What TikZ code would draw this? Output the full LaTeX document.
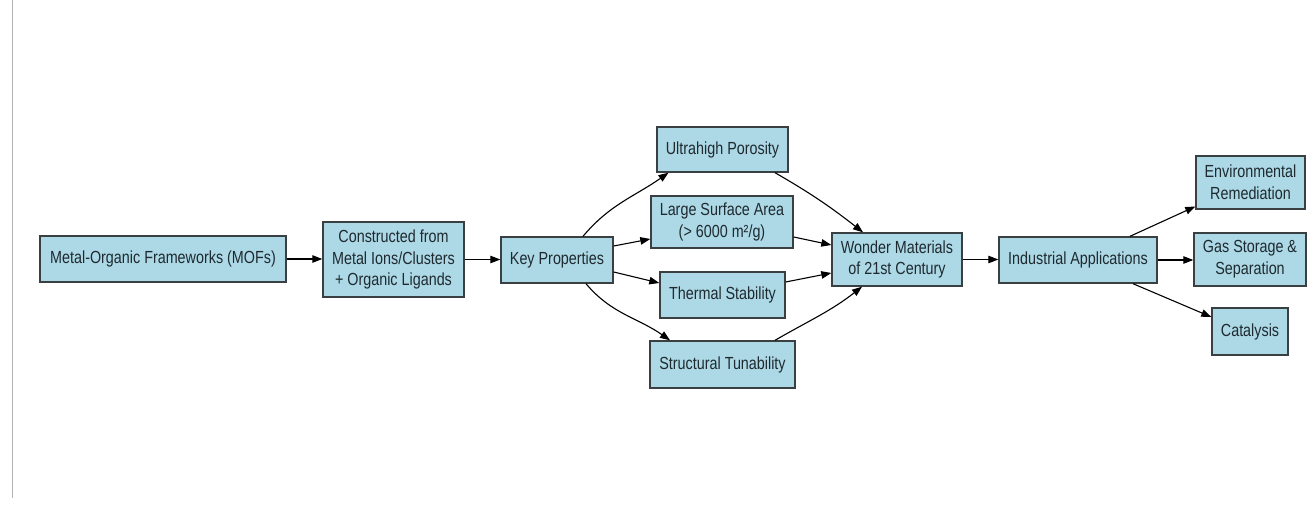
\documentclass[tikz,border=0pt]{standalone}
\usepackage{fontspec}
\setmainfont[FakeStretch=0.82]{Liberation Sans}
\usetikzlibrary{arrows.meta}
\definecolor{boxfill}{HTML}{ADD8E6}
\definecolor{boxline}{HTML}{3A3F42}
\definecolor{txt}{HTML}{1E2A30}
\begin{document}
\begin{tikzpicture}[x=1pt,y=1pt,
  box/.style={draw=boxline, line width=1.4pt, fill=boxfill, text=txt, inner sep=0pt,
    align=center, font=\fontsize{17.5}{21.7}\selectfont},
  arr/.style={draw=black, line width=1.1pt, -{Triangle[length=10pt,width=7.5pt]}}]
\useasboundingbox (0,0) rectangle (1308,504);
\fill[white] (0,0) rectangle (1308,504);
\draw[line width=1pt, black!30] (12,504) -- (12,6);

\node[box, minimum width=246, minimum height=46] (mof) at (163,245) {Metal-Organic Frameworks (MOFs)};
\node[box, minimum width=141, minimum height=75] (con) at (393.5,244.5) {Constructed from\\Metal Ions/Clusters\\+ Organic Ligands};
\node[box, minimum width=112, minimum height=46] (key) at (557,244) {Key Properties};
\node[box, minimum width=131, minimum height=45] (up) at (722.5,354.5) {Ultrahigh Porosity};
\node[box, minimum width=142, minimum height=52] (lsa) at (722,282) {Large Surface Area\\(> 6000 m²/g)};
\node[box, minimum width=125, minimum height=46] (ts) at (722.5,209) {Thermal Stability};
\node[box, minimum width=145, minimum height=47] (st) at (722.5,139.5) {Structural Tunability};
\node[box, minimum width=130, minimum height=53] (won) at (897,244.5) {Wonder Materials\\of 21st Century};
\node[box, minimum width=158, minimum height=46] (ind) at (1078,244) {Industrial Applications};
\node[box, minimum width=109, minimum height=53] (env) at (1250.5,321.5) {Environmental\\Remediation};
\node[box, minimum width=112, minimum height=53] (gas) at (1250,244.5) {Gas Storage \&\\Separation};
\node[box, minimum width=76, minimum height=47] (cat) at (1250,172.5) {Catalysis};

\draw[arr] (mof.east) -- (con.west |- mof.east);
\draw[arr] (con.east) -- (key.west |- con.east);
\draw[arr] ([xshift=26]key.north) to[out=50,in=215] ([xshift=-54]up.south);
\draw[arr] ([yshift=14]key.east) -- ([yshift=-17]lsa.west);
\draw[arr] ([yshift=-12]key.east) -- ([yshift=12]ts.west);
\draw[arr] ([xshift=29]key.south) to[out=-50,in=145] ([xshift=-52.5]st.north);
\draw[arr] ([xshift=52.5]up.south) to[out=-30,in=142] ([xshift=-34]won.north);
\draw[arr] ([yshift=-15]lsa.east) -- ([yshift=14.5]won.west);
\draw[arr] ([yshift=13]ts.east) -- ([yshift=-13.5]won.west);
\draw[arr] ([xshift=52.5]st.north) to[out=30,in=-142] ([xshift=-35]won.south);
\draw[arr] (won.east) -- (ind.west |- won.east);
\draw[arr] ([xshift=52]ind.north) -- ([yshift=-24]env.west);
\draw[arr] (ind.east) -- (gas.west |- ind.east);
\draw[arr] ([xshift=55]ind.south) -- ([yshift=14.5]cat.west);
\end{tikzpicture}
\end{document}
